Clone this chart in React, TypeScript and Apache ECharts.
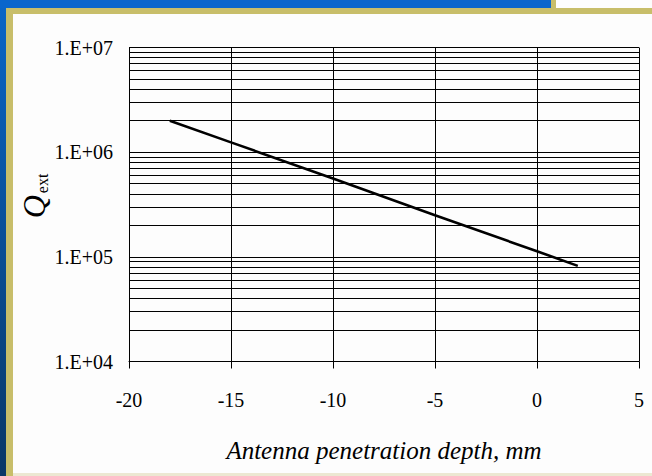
import React, { useEffect, useRef } from "react";
import * as echarts from "echarts";

const depthMm = [-18, -15, -10, -5, 0, 2];
const qExt = [2.0e6, 1.24e6, 5.6e5, 2.5e5, 1.13e5, 8.2e4];
const xTicks = { min: -20, max: 5, interval: 5 };
const yRange = { min: 1e4, max: 1e7 };
const minorGridValues: number[] = [];
for (const d of [1e4, 1e5, 1e6]) {
  for (let k = 2; k <= 9; k++) minorGridValues.push(k * d);
}

const SERIF = "'Liberation Serif', 'Times New Roman', serif";

export default function App() {
  const ref = useRef<HTMLDivElement>(null);
  useEffect(() => {
    if (!ref.current) return;
    const chart = echarts.init(ref.current, null, { renderer: "svg" });
    chart.setOption({
      animation: false,
      backgroundColor: "#fdfdfd",
      grid: { left: 129, right: 13, top: 47.5, bottom: 114.5, containLabel: false },
      xAxis: {
        type: "value",
        min: xTicks.min,
        max: xTicks.max,
        interval: xTicks.interval,
        name: "Antenna penetration depth, mm",
        nameLocation: "middle",
        nameGap: 76,
        nameTextStyle: { fontFamily: SERIF, fontStyle: "italic", fontSize: 25, color: "#000" },
        axisLine: { show: true, lineStyle: { color: "#000", width: 1 } },
        axisTick: { show: true, inside: false, length: 7, lineStyle: { color: "#000" } },
        axisLabel: { fontFamily: SERIF, fontSize: 20, color: "#000", margin: 28 },
        splitLine: { show: true, lineStyle: { color: "#000", width: 1 } },
      },
      yAxis: {
        type: "log",
        logBase: 10,
        min: yRange.min,
        max: yRange.max,
        axisLine: { show: true, lineStyle: { color: "#000", width: 1 } },
        axisTick: { show: true, inside: false, length: 6, lineStyle: { color: "#000" } },
        axisLabel: {
          fontFamily: SERIF,
          fontSize: 20,
          color: "#000",
          margin: 16,
          formatter: (v: number) => {
            const e = Math.round(Math.log10(v));
            return "1.E+" + (e < 10 ? "0" + e : "" + e);
          },
        },
        splitLine: { show: true, lineStyle: { color: "#000", width: 1 } },
      },
      graphic: [
        {
          type: "rect",
          shape: { x: 0, y: 0, width: 6, height: 476 },
          style: {
            fill: new echarts.graphic.LinearGradient(0, 0, 0, 1, [
              { offset: 0, color: "#0a66c8" },
              { offset: 1, color: "#0a3766" },
            ]),
          },
          silent: true,
        },
        {
          type: "rect",
          shape: { x: 0, y: 0, width: 551, height: 8 },
          style: { fill: "#0a66cc" },
          silent: true,
        },
        {
          type: "rect",
          shape: { x: 551, y: 0, width: 5, height: 8 },
          style: { fill: "#c8be6a" },
          silent: true,
        },
        {
          type: "rect",
          shape: { x: 6, y: 8, width: 646, height: 6 },
          style: { fill: "#c8be6a" },
          silent: true,
        },
        {
          type: "rect",
          shape: { x: 6, y: 8, width: 7, height: 468 },
          style: { fill: "#c8be6a" },
          silent: true,
        },
        {
          type: "rect",
          shape: { x: 13, y: 473, width: 639, height: 3 },
          style: { fill: "#ece8d2" },
          silent: true,
        },
        {
          type: "text",
          x: 34,
          y: 196,
          rotation: Math.PI / 2,
          silent: true,
          style: {
            text: "{q|Q}{s|ext}",
            align: "center",
            verticalAlign: "middle",
            rich: {
              q: {
                fontFamily: SERIF,
                fontStyle: "italic",
                fontSize: 32,
                lineHeight: 32,
                fill: "#000",
                verticalAlign: "middle",
              },
              s: {
                fontFamily: SERIF,
                fontSize: 16,
                lineHeight: 16,
                fill: "#000",
                verticalAlign: "bottom",
                padding: [0, 0, 0, 2],
              },
            },
          },
        },
      ],
      series: [
        {
          type: "line",
          data: depthMm.map((x, i) => [x, qExt[i]]),
          symbol: "none",
          lineStyle: { color: "#000", width: 2.6 },
          silent: true,
          markLine: {
            silent: true,
            symbol: ["none", "none"],
            label: { show: false },
            lineStyle: { color: "#000", width: 1, type: "solid" },
            emphasis: { disabled: true },
            data: minorGridValues.map((v) => ({ yAxis: v })),
          },
        },
      ],
    });
    return () => chart.dispose();
  }, []);
  return (
    <div
      ref={ref}
      style={{ position: "fixed", left: 0, top: 0, width: 652, height: 476 }}
    />
  );
}
